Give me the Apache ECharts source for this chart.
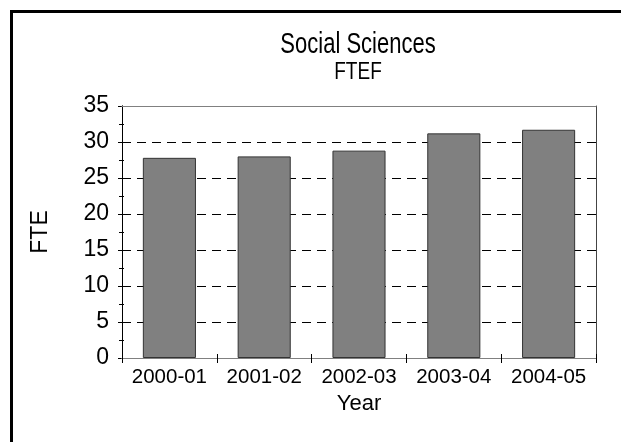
<!DOCTYPE html>
<html>
<head>
<meta charset="utf-8">
<script src="https://cdn.jsdelivr.net/npm/echarts@6/dist/echarts.min.js"></script>
<style>
html,body{margin:0;padding:0;background:#fff;}
#c{width:621px;height:442px;}
</style>
</head>
<body>
<div id="c"></div>
<script>
const categories = ['2000-01', '2001-02', '2002-03', '2003-04', '2004-05'];
const fteValues = [27.8, 28.0, 28.8, 31.2, 31.7];
const yTicks = [0, 5, 10, 15, 20, 25, 30, 35];
const titleText = 'Social Sciences';
const subtitleText = 'FTEF';
const xAxisName = 'Year';
const yAxisName = 'FTE';

const FONT = '"Liberation Sans", Arial, sans-serif';
const chart = echarts.init(document.getElementById('c'), null, {renderer: 'canvas'});
const yCommon = {type: 'value', min: yTicks[0], max: yTicks[yTicks.length - 1], interval: yTicks[1] - yTicks[0], position: 'left'};
// grid lines black except at the top (35), which is the solid plot frame
const gridColors = yTicks.map((v, i) => i === yTicks.length - 1 ? 'rgba(0,0,0,0)' : '#000');
chart.setOption({
  animation: false,
  backgroundColor: '#fff',
  grid: {left: 122, right: 25, top: 106, bottom: 84, containLabel: false},
  xAxis: [
    {type: 'category', data: categories, position: 'bottom', z: 5,
     axisLine: {onZero: false, lineStyle: {color: '#808080', width: 1}},
     axisTick: {show: true, inside: false, length: 5, alignWithLabel: false, lineStyle: {color: '#000'}},
     axisLabel: {fontFamily: FONT, fontSize: 20.5, color: '#000', margin: 9, interval: 0},
     name: xAxisName, nameLocation: 'middle', nameGap: 30,
     nameTextStyle: {fontFamily: FONT, fontSize: 22, color: '#000'},
     splitLine: {show: false}},
    {type: 'category', data: categories, position: 'top', z: 5,
     axisLine: {onZero: false, lineStyle: {color: '#808080', width: 1}},
     axisTick: {show: false}, axisLabel: {show: false}, splitLine: {show: false}},
    {type: 'category', data: categories, position: 'bottom', z: 5,
     axisLine: {onZero: false, lineStyle: {color: '#808080', width: 1}},
     axisTick: {show: true, inside: true, length: 4, alignWithLabel: false, lineStyle: {color: '#000'}},
     axisLabel: {show: false}, splitLine: {show: false}}
  ],
  yAxis: [
    Object.assign({}, yCommon, {
      axisLine: {show: true, onZero: false, lineStyle: {color: '#000'}},
      axisTick: {show: true, inside: false, length: 4, lineStyle: {color: '#000'}},
      minorTick: {show: true, splitNumber: 2, length: 3, lineStyle: {color: '#000'}},
      axisLabel: {fontFamily: FONT, fontSize: 23, color: '#000', margin: 13},
      splitLine: {show: true, lineStyle: {color: gridColors, type: [9, 6], width: 1}},
      name: yAxisName, nameLocation: 'middle', nameRotate: 90, nameGap: 70,
      nameTextStyle: {fontFamily: FONT, fontSize: 23, color: '#000'}
    }),
    Object.assign({}, yCommon, {
      axisLine: {show: true, onZero: false, lineStyle: {color: '#000'}},
      axisTick: {show: true, inside: true, length: 4, lineStyle: {color: '#000'}},
      minorTick: {show: true, splitNumber: 2, length: 2, lineStyle: {color: '#000'}},
      axisLabel: {show: false}, splitLine: {show: false}
    }),
    Object.assign({}, yCommon, {position: 'right',
      axisLine: {show: true, onZero: false, lineStyle: {color: '#444'}},
      axisTick: {show: false}, axisLabel: {show: false}, splitLine: {show: false}
    })
  ],
  series: [{
    type: 'bar', data: fteValues, xAxisIndex: 0, yAxisIndex: 0,
    barCategoryGap: '44%',
    itemStyle: {color: '#808080', borderColor: '#333', borderWidth: 1},
    z: 3
  }],
  graphic: [
    {type: 'text', x: 358, y: 45, scaleY: 1.3,
     style: {text: titleText, x: 0, y: 0, align: 'center', verticalAlign: 'middle',
             font: '22px ' + FONT, fill: '#000'}, z: 50},
    {type: 'text', x: 358, y: 72.5, scaleY: 1.25,
     style: {text: subtitleText, x: 0, y: 0, align: 'center', verticalAlign: 'middle',
             font: '19px ' + FONT, fill: '#000'}, z: 50},
    {type: 'rect', shape: {x: 11.5, y: 11.5, width: 700, height: 600},
     style: {fill: 'none', stroke: '#000', lineWidth: 3}, z: 100}
  ]
});
</script>
</body>
</html>
